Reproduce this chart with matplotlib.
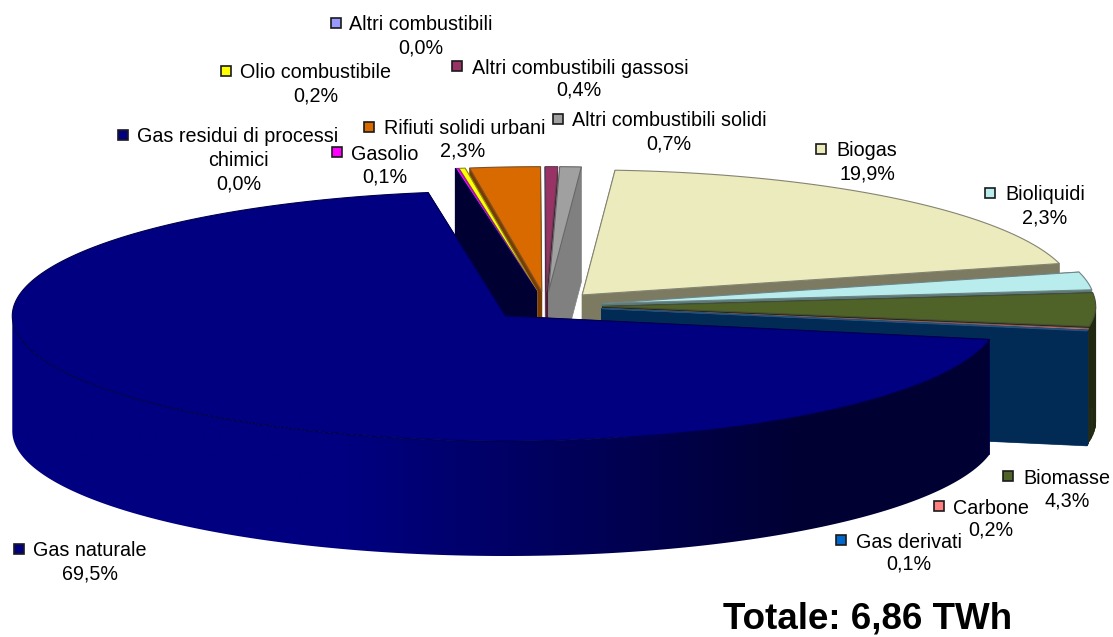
import matplotlib
matplotlib.use("Agg")
import matplotlib.pyplot as plt
import matplotlib.patches as patches
import numpy as np

plt.rcParams['font.family'] = ['Liberation Sans', 'DejaVu Sans']

# === Data (counter-clockwise from the big slice) ===
labels = ["Gas naturale", "Gas derivati", "Carbone", "Biomasse", "Bioliquidi", "Biogas",
          "Altri combustibili solidi", "Altri combustibili gassosi", "Altri combustibili",
          "Rifiuti solidi urbani", "Olio combustibile", "Gasolio",
          "Gas residui di processi\nchimici"]
values = [69.5, 0.1, 0.2, 4.3, 2.3, 19.9, 0.7, 0.4, 0.0, 2.3, 0.2, 0.1, 0.0]
value_labels = ["69,5%", "0,1%", "0,2%", "4,3%", "2,3%", "19,9%", "0,7%", "0,4%", "0,0%",
                "2,3%", "0,2%", "0,1%", "0,0%"]
total_label = "Totale: 6,86 TWh"

# === Styles ===
top_colors = ["#000080", "#0066cc", "#ff8080", "#4f6228", "#b9eded", "#ecebbd",
              "#a0a0a0", "#993366", "#9999ff", "#d96a00", "#ffff00", "#ff00ff", "#000080"]
wall_colors = ["#000080", "#012b55", "#1f2b2b", "#20280f", "#5a7a7a", "#7c7b62",
               "#808080", "#4d1a33", "#e0e0f0", "#7a3c00", "#808000", "#800080", "#000033"]
# back to front
draw_order = [9, 10, 11, 12, 8, 7, 6, 5, 4, 3, 2, 1, 0]

# label layout: x of the square, y of first line, text centre x, value centre x, value y
legend_pos = [(19, 549, 90, 90, 572), (841, 540, 909, 909, 562), (939, 506, 991, 991, 528),
              (1008, 476, 1067, 1067, 499), (990, 193, 1045, 1045, 216), (821, 149, 867, 867, 172),
              (558, 119, 669, 669, 142), (457, 66, 580, 579, 88), (336, 23, 421, 421, 46),
              (369, 127, 465, 463, 149), (226, 71, 316, 316, 94), (337, 152, 385, 385, 175),
              (123, 135, 238, 239, 182)]

# === Pie geometry (pixels) ===
CX, CY = 546, 306
RX, RY = 493, 125
DEPTH = 115
EXPLODE = 0.115
START = 99.0
NUDGE = 0.5  # small slices sit a bit further round than the big one


def pt(cx, cy, deg):
    a = np.radians(deg)
    return np.array([cx + RX * np.cos(a), cy - RY * np.sin(a)])


fig = plt.figure(figsize=(11.13, 6.37), dpi=100)
ax = fig.add_axes([0, 0, 1, 1])
ax.axis('off')

# angle limits of every slice
sweep = np.array(values) / sum(values) * 360
theta1 = START + np.concatenate([[0], np.cumsum(sweep)[:-1]])
theta1[1:] += NUDGE
theta2 = theta1 + sweep

for i in draw_order:
    mid = np.radians((theta1[i] + theta2[i]) / 2)
    cx = CX + EXPLODE * RX * np.cos(mid)
    cy = CY - EXPLODE * RY * np.sin(mid)
    apex = np.array([cx, cy])
    down = np.array([0, DEPTH])
    zo = 3 if i == 0 else 1

    # radial walls
    for ang in (theta2[i], theta1[i]):
        rim = pt(cx, cy, ang)
        ax.add_patch(patches.Polygon([apex, rim, rim + down, apex + down], closed=True,
                                     facecolor=wall_colors[i], edgecolor=wall_colors[i], lw=0.5, zorder=zo))

    if i == 0:
        # big slice: outer wall is a gradient, navy on the left, almost black on the right
        rim_angles = np.linspace(180, theta2[0], 200)
        upper = np.array([pt(cx, cy, a) for a in rim_angles])
        outline = np.vstack([upper, upper[::-1] + down])
        wall = patches.Polygon(outline, closed=True, facecolor='none', edgecolor='none',
                               transform=ax.transData)
        ax.add_patch(wall)
        px = np.linspace(0, 1113, 400)
        t = np.interp(px, [350, 800], [0, 1])
        start_rgb = np.array(matplotlib.colors.to_rgb("#000080"))
        end_rgb = np.array(matplotlib.colors.to_rgb("#000033"))
        grad = (start_rgb[None, :] + (end_rgb - start_rgb)[None, :] * t[:, None])[None, :, :]
        img = ax.imshow(grad, extent=(0, 1113, 637, 0), aspect='auto', zorder=3.5)
        img.set_clip_path(wall)
    else:
        # outer wall, only the part that faces the viewer
        steps = np.append(np.arange(theta1[i], theta2[i], 1.5), theta2[i])
        for a0, a1 in zip(steps[:-1], steps[1:]):
            if np.sin(np.radians((a0 + a1) / 2)) > 0:
                continue
            p0, p1 = pt(cx, cy, a0), pt(cx, cy, a1)
            ax.add_patch(patches.Polygon([p0, p1, p1 + down, p0 + down], closed=True,
                                         facecolor=wall_colors[i], edgecolor=wall_colors[i], lw=0.6))

    # top face
    arc = np.radians(np.linspace(theta1[i], theta2[i], max(int(sweep[i] * 2), 2)))
    xs = np.concatenate([[cx], cx + RX * np.cos(arc)])
    ys = np.concatenate([[cy], cy - RY * np.sin(arc)])
    if i in (0, 12):
        edge = "#00004d"
    else:
        base = np.array(matplotlib.colors.to_rgb(top_colors[i]))
        edge = tuple(base * 0.4 + 0.6 * 0.25)
    ax.add_patch(patches.Polygon(np.column_stack([xs, ys]), closed=True, facecolor=top_colors[i],
                                 edgecolor=edge, lw=0.8, zorder=4 if i == 0 else 1))

ax.set_xlim(0, 1113)
ax.set_ylim(637, 0)

# === Labels ===
SQ = 10
for i, (sx, ly, tx, vx, vy) in enumerate(legend_pos):
    ax.add_patch(patches.Rectangle((sx - SQ / 2, ly - SQ / 2), SQ, SQ, facecolor=top_colors[i],
                                   edgecolor='#1a1a1a', lw=1.2, zorder=5))
    lines = labels[i].split("\n")
    for n, line in enumerate(lines):
        ax.text(tx, ly + 2 + n * 24, line, fontsize=14.2, ha='center', va='center', color='black', zorder=5)
    ax.text(vx, vy + 2, value_labels[i], fontsize=14.2, ha='center', va='center', color='black', zorder=5)

ax.text(868, 629, total_label, fontsize=26.5, fontweight='bold', ha='center', va='baseline', color='black')

fig.savefig("out.png", dpi=100)
